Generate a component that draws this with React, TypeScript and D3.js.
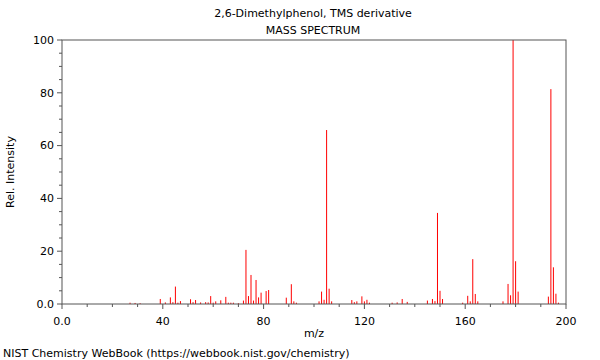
import React from "react";
import * as d3 from "d3";

const title = "2,6-Dimethylphenol, TMS derivative";
const subtitle = "MASS SPECTRUM";
const xLabel = "m/z";
const yLabel = "Rel. Intensity";
const footer = "NIST Chemistry WebBook (https://webbook.nist.gov/chemistry)";

const mzValues = [27, 29, 31, 39, 41, 43, 44, 45, 46, 47, 51, 52, 53, 55, 57, 58, 59, 60, 61, 63, 65, 66, 67, 68, 70, 72, 73, 74, 75, 76, 77, 78, 79, 81, 82, 89, 91, 92, 93, 102, 103, 104, 105, 106, 107, 115, 116, 117, 119, 120, 121, 122, 131, 133, 135, 137, 145, 147, 148, 149, 150, 151, 159, 161, 162, 163, 164, 165, 175, 177, 178, 179, 180, 181, 193, 194, 195, 196, 197];
const intensities = [0.5, 0.4, 0.3, 1.9, 0.6, 2.5, 0.7, 6.6, 0.5, 1.1, 1.8, 0.7, 1.5, 0.6, 0.7, 0.6, 3.0, 0.5, 1.0, 1.4, 2.7, 0.5, 0.5, 0.5, 0.3, 1.3, 20.5, 3.0, 11.0, 1.3, 9.1, 2.5, 4.3, 4.9, 5.3, 2.4, 7.5, 1.0, 0.5, 1.0, 4.7, 1.6, 65.9, 5.8, 1.0, 1.5, 0.7, 1.0, 2.9, 1.0, 1.6, 0.5, 0.5, 0.6, 1.9, 0.8, 1.3, 1.9, 1.1, 34.5, 5.0, 1.9, 0.5, 3.1, 1.0, 17.0, 3.8, 1.0, 1.0, 7.6, 3.3, 100, 16.2, 4.7, 2.8, 81.4, 13.9, 3.9, 0.5];

const xMajorTicks = [0, 40, 80, 120, 160, 200];
const xTickLabels = ["0.0", "40", "80", "120", "160", "200"];
const xMinorTicks = d3.range(0, 201, 10);
const yMajorTicks = [0, 20, 40, 60, 80, 100];
const yTickLabels = ["0.0", "20", "40", "60", "80", "100"];
const yMinorTicks = d3.range(0, 101, 5);

export default function App() {
  const W = 600, H = 360;
  const left = 62, right = 566, top = 40, bottom = 304;
  const x = d3.scaleLinear().domain([0, 200]).range([left, right]);
  const y = d3.scaleLinear().domain([0, 100]).range([bottom, top]);
  const font = "DejaVu Sans, sans-serif";
  const axisColor = "#555";
  const peaks = mzValues.map((m, i) => ({ m, v: intensities[i] }));
  return (
    <svg width={W} height={H} style={{ position: "absolute", left: 0, top: 0, background: "#fff" }} fontFamily={font}>
      <rect x={0} y={0} width={W} height={H} fill="#fff" />
      <text x={313} y={17} fontSize={11} textAnchor="middle" fill="#000">{title}</text>
      <text x={313} y={34} fontSize={11} textAnchor="middle" fill="#000">{subtitle}</text>
      {peaks.map((p, i) => (
        <rect key={i} x={x(p.m) - 0.5} y={y(p.v)} width={1} height={y(0) - y(p.v)} fill="#ff0000" />
      ))}
      <rect x={left} y={top} width={right - left} height={bottom - top} fill="none" stroke={axisColor} strokeWidth={1} />
      {xMinorTicks.map((t) => (
        <line key={"xm" + t} x1={x(t)} x2={x(t)} y1={bottom} y2={bottom + (xMajorTicks.includes(t) ? 5 : 3)} stroke={axisColor} />
      ))}
      {xMajorTicks.map((t, i) => (
        <text key={"xl" + t} x={x(t)} y={325} fontSize={11} textAnchor="middle" fill="#000">{xTickLabels[i]}</text>
      ))}
      {yMinorTicks.map((t) => (
        <line key={"ym" + t} x1={left} x2={left - (yMajorTicks.includes(t) ? 5 : 3)} y1={y(t)} y2={y(t)} stroke={axisColor} />
      ))}
      {yMajorTicks.map((t, i) => (
        <text key={"yl" + t} x={54} y={y(t)} dy="0.35em" fontSize={11} textAnchor="end" fill="#000">{yTickLabels[i]}</text>
      ))}
      <text x={314} y={337} fontSize={11} textAnchor="middle" fill="#000">{xLabel}</text>
      <text transform={`translate(14,${(top + bottom) / 2}) rotate(-90)`} fontSize={11} textAnchor="middle" fill="#000">{yLabel}</text>
      <text x={3} y={357} fontSize={11} fill="#000">{footer}</text>
    </svg>
  );
}
